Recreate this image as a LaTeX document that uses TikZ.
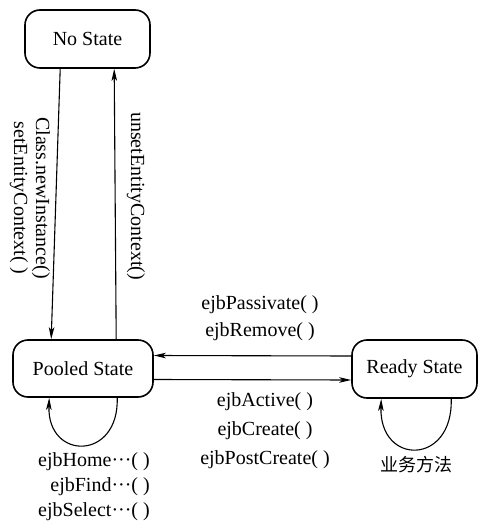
\documentclass[tikz,border=0pt]{standalone}
\usepackage{fontspec}
\setmainfont{Liberation Serif}
\newfontfamily\cjkfont{Noto Sans CJK SC}
\usetikzlibrary{arrows.meta}
\tikzset{
  state/.style={draw,line width=1.6pt,rounded corners=15pt,inner sep=0pt,
    font=\fontsize{20}{24}\selectfont},
  trans/.style={line width=1.1pt,-{Stealth[length=12pt,width=5.5pt,inset=3pt]}},
  lbl/.style={inner sep=0pt,font=\fontsize{20}{24}\selectfont}
}
\begin{document}
\begin{tikzpicture}[x=1pt,y=-1pt]
\fill[white] (0,0) rectangle (482,521);
\useasboundingbox (0,0) rectangle (482,521);

% states
\node[state,minimum width=125pt,minimum height=58pt] (nostate) at (87.5,39) {No State};
\node[state,minimum width=140pt,minimum height=57pt] (pooled) at (83,368.5) {Pooled State};
\node[state,minimum width=125pt,minimum height=58pt] (ready) at (414.5,369) {Ready State};

% No State <-> Pooled State
\draw[trans] ([xshift=36pt]nostate.south west) -- ([xshift=39pt]pooled.north west);
\draw[trans] ([xshift=104pt]pooled.north west) -- ([xshift=90pt]nostate.south west);

\node[lbl,rotate=-90,align=center,font=\fontsize{20}{22}\selectfont] (create) at (30,198)
  {Class.newInstance()\\setEntityContext( )};
\node[lbl,rotate=-90] (unset) at (136,196) {unsetEntityContext()};

% Pooled State <-> Ready State
\draw[trans] ([yshift=13pt]ready.west) -- ([yshift=13pt]pooled.east);
\draw[trans] ([yshift=-11pt]pooled.east) -- ([yshift=-11pt]ready.west);

\node[lbl,align=center,font=\fontsize{20}{27}\selectfont] (passivate) at (260,318)
  {ejbPassivate( )\\ejbRemove( )};
\node[lbl,align=center,font=\fontsize{20}{29}\selectfont] (activate) at (265,431)
  {ejbActive( )\\ejbCreate( )\\ejbPostCreate( )};

% self loops
\draw[trans] ([xshift=105pt]pooled.south west)
  .. controls +(2,63) and +(-2,63) .. ([xshift=37pt]pooled.south west);
\draw[trans] ([xshift=100pt]ready.south west)
  .. controls +(2,67) and +(-2,67) .. ([xshift=30pt]ready.south west);

\node[lbl,align=right,anchor=east,font=\fontsize{20}{25}\selectfont] (home) at (150,487)
  {ejbHome···( )\\ejbFind···( )\\ejbSelect···( )};
\node[lbl,font=\cjkfont\fontsize{18}{20}\selectfont] (biz) at (416,465) {业务方法};
\end{tikzpicture}
\end{document}
